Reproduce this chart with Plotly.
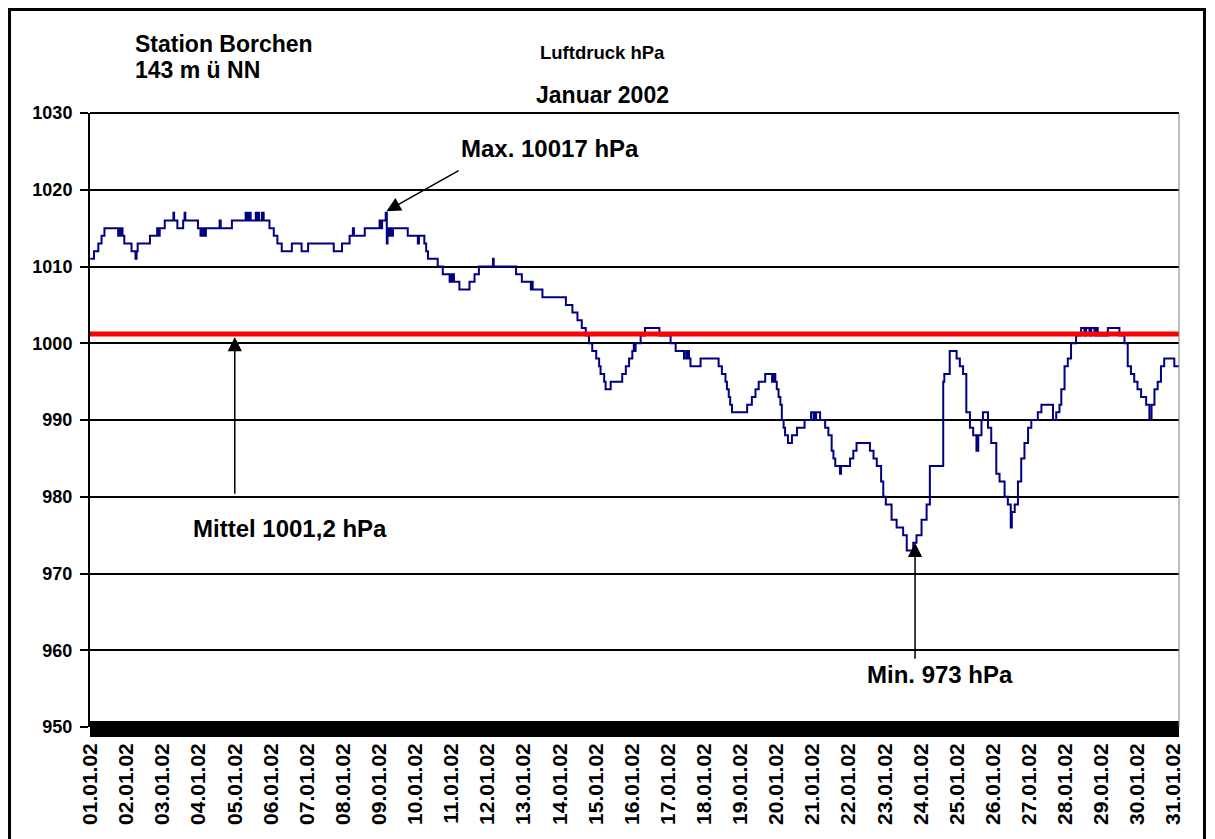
import plotly.graph_objects as go

# ---- data ----
day_pos = [1.00, 1.10, 1.22, 1.31, 1.39, 1.77, 1.80, 1.83, 1.86, 1.89, 1.94, 2.14, 2.25, 2.28, 2.31,
           2.65, 2.85, 2.88, 2.92, 3.06, 3.30, 3.32, 3.41, 3.57, 3.61, 3.63, 3.98, 4.05, 4.08, 4.11,
           4.14, 4.17, 4.20, 4.58, 4.61, 4.92, 5.30, 5.32, 5.36, 5.38, 5.42, 5.44, 5.58, 5.60, 5.65,
           5.67, 5.75, 5.80, 5.96, 6.08, 6.18, 6.30, 6.58, 6.85, 7.03, 7.74, 7.97, 8.18, 8.27, 8.30,
           8.60, 9.01, 9.05, 9.08, 9.18, 9.21, 9.23, 9.25, 9.27, 9.29, 9.31, 9.34, 9.38, 9.79, 10.07,
           10.10, 10.25, 10.30, 10.35, 10.62, 10.76, 10.95, 10.98, 11.01, 11.04, 11.07, 11.22, 11.50,
           11.64, 11.76, 12.15, 12.17, 12.79, 12.95, 13.20, 13.22, 13.25, 13.52, 14.17, 14.35, 14.49,
           14.61, 14.72, 14.81, 14.90, 15.01, 15.09, 15.13, 15.23, 15.27, 15.41, 15.73, 15.83, 15.92,
           16.01, 16.05, 16.07, 16.10, 16.24, 16.36, 16.76, 17.07, 17.21, 17.44, 17.50, 17.53, 17.56,
           17.58, 17.62, 17.90, 18.40, 18.49, 18.59, 18.63, 18.68, 18.72, 18.77, 19.19, 19.32, 19.42,
           19.51, 19.69, 19.88, 19.92, 19.97, 20.01, 20.06, 20.11, 20.15, 20.20, 20.24, 20.32, 20.43,
           20.57, 20.78, 20.96, 21.03, 21.05, 21.08, 21.10, 21.21, 21.35, 21.44, 21.53, 21.58, 21.63,
           21.76, 21.79, 22.04, 22.13, 22.22, 22.59, 22.69, 22.78, 22.90, 22.96, 23.03, 23.19, 23.33,
           23.51, 23.61, 23.79, 23.88, 24.02, 24.16, 24.25, 24.62, 24.65, 24.80, 24.99, 25.08, 25.17,
           25.26, 25.36, 25.45, 25.54, 25.59, 25.68, 25.72, 25.86, 25.95, 26.09, 26.18, 26.32, 26.41,
           26.49, 26.52, 26.60, 26.69, 26.78, 26.87, 26.97, 27.06, 27.24, 27.34, 27.66, 27.75, 27.84,
           27.89, 27.98, 28.07, 28.16, 28.30, 28.44, 28.53, 28.58, 28.67, 28.72, 28.81, 28.85, 28.90,
           29.18, 29.50, 29.64, 29.73, 29.82, 29.91, 30.00, 30.10, 30.24, 30.33, 30.39, 30.47, 30.56,
           30.65, 30.74, 31.02, 31.15]

pressure_hpa = [1011, 1012, 1013, 1014, 1015, 1014, 1015, 1014, 1015, 1014, 1013, 1012, 1011, 1012, 1013,
                1014, 1015, 1014, 1015, 1016, 1017, 1016, 1015, 1016, 1017, 1016, 1015, 1014, 1015, 1014,
                1015, 1014, 1015, 1016, 1015, 1016, 1017, 1016, 1017, 1016, 1017, 1016, 1017, 1016, 1017,
                1016, 1017, 1016, 1015, 1014, 1013, 1012, 1013, 1012, 1013, 1012, 1013, 1014, 1015, 1014,
                1015, 1016, 1015, 1016, 1017, 1013, 1015, 1014, 1015, 1014, 1015, 1014, 1015, 1014, 1013,
                1014, 1013, 1012, 1011, 1010, 1009, 1008, 1009, 1008, 1009, 1008, 1007, 1008,
                1009, 1010, 1011, 1010, 1009, 1008, 1007, 1008, 1007, 1006, 1005, 1004, 1003,
                1002, 1001, 1000, 999, 998, 997, 996, 995, 994, 995, 996, 997, 998,
                999, 1000, 999, 1000, 1001, 1002, 1001, 1000, 999, 998, 999, 998, 999,
                998, 997, 998, 997, 996, 995, 994, 993, 992, 991, 992, 993, 994,
                995, 996, 995, 996, 995, 994, 993, 992, 990, 989, 988, 987, 988,
                989, 990, 991, 990, 991, 990, 991, 990, 989, 988, 986, 985, 984,
                983, 984, 985, 986, 987, 986, 985, 984, 982, 980, 979, 977, 976,
                975, 973, 974, 975, 977, 979, 984, 995, 996, 999, 998, 997, 996,
                991, 989, 988, 986, 988, 990, 991, 989, 987, 983, 982, 980, 979,
                976, 978, 979, 982, 985, 987, 989, 990, 991, 992, 990, 991, 992,
                994, 997, 998, 1000, 1001, 1002, 1001, 1002, 1001, 1002, 1001, 1002, 1001,
                1002, 1001, 1000, 997, 996, 995, 994, 993, 992, 990, 992, 994, 995,
                997, 998, 997, 997]

mean_hpa = 1001.2
tick_days = list(range(1, 32))
tick_labels = [f"{d:02d}.01.02" for d in tick_days]
y_ticks = [950, 960, 970, 980, 990, 1000, 1010, 1020, 1030]

# ---- figure ----
X_LO, X_HI = 0.99, 31.15
FONT = "Liberation Sans, Arial, sans-serif"

fig = go.Figure()
fig.add_trace(go.Scatter(x=day_pos, y=pressure_hpa, mode="lines", line_shape="hv",
                         line=dict(color="#000080", width=2), hoverinfo="skip"))
fig.add_trace(go.Scatter(x=[X_LO, X_HI], y=[mean_hpa, mean_hpa], mode="lines",
                         line=dict(color="#ff0000", width=5), hoverinfo="skip"))

fig.update_layout(
    width=1198, height=831,
    margin=dict(l=82, r=27, t=105, b=112),
    paper_bgcolor="white", plot_bgcolor="white",
    showlegend=False,
    font=dict(family=FONT, color="black"),
    xaxis=dict(range=[X_LO, X_HI], tickvals=tick_days, ticktext=tick_labels,
               tickangle=-90, tickfont=dict(size=21, weight="bold", family=FONT),
               showgrid=False, zeroline=False, showline=False, ticks="",
               ticklabelstandoff=11),
    yaxis=dict(range=[950, 1030], tickvals=y_ticks, ticktext=[str(v) for v in y_ticks],
               tickfont=dict(size=18, weight="bold", family=FONT),
               showgrid=True, gridcolor="black", gridwidth=1.5, zeroline=False,
               showline=True, linecolor="black", linewidth=2,
               ticks="outside", ticklen=8, tickcolor="black", tickwidth=1.5,
               ticklabelstandoff=4),
)

shapes = [
    # dense tick band along the category axis
    dict(type="rect", xref="paper", yref="paper", x0=0, x1=1, y0=-0.0163, y1=0.0098,
         fillcolor="black", line=dict(width=0), layer="above"),
    # top border of plot area
    dict(type="line", xref="paper", yref="paper", x0=0, x1=1, y0=1, y1=1,
         line=dict(color="black", width=2)),
    # right border of plot area
    dict(type="line", xref="paper", yref="paper", x0=1, x1=1, y0=0, y1=1,
         line=dict(color="#808080", width=1)),
    # outer frame of the chart
    dict(type="rect", xref="paper", yref="paper", x0=-0.0739, x1=1.0234, y0=-0.2, y1=1.1686,
         line=dict(color="black", width=3), fillcolor="rgba(0,0,0,0)"),
]
fig.update_layout(shapes=shapes)

bold = dict(family=FONT, size=24, color="black", weight="bold")
title_font = dict(family=FONT, size=23, color="black", weight="bold")
arrow_style = dict(showarrow=True, arrowhead=2, arrowsize=1.9, arrowwidth=1.5,
                   arrowcolor="black", axref="x", ayref="y", text="")
annotations = [
    dict(xref="paper", yref="paper", x=0.0395, y=1.1124, text="Station Borchen",
         showarrow=False, xanchor="left", yanchor="middle", font=title_font),
    dict(xref="paper", yref="paper", x=0.0395, y=1.070, text="143 m ü NN",
         showarrow=False, xanchor="left", yanchor="middle", font=title_font),
    dict(xref="paper", yref="paper", x=0.4702, y=1.0993, text="Luftdruck hPa",
         showarrow=False, xanchor="center", yanchor="middle",
         font=dict(family=FONT, size=18.5, color="black", weight="bold")),
    dict(xref="paper", yref="paper", x=0.4702, y=1.0293, text="Januar 2002",
         showarrow=False, xanchor="center", yanchor="middle",
         font=dict(family=FONT, size=23, color="black", weight="bold")),
    # Max
    dict(x=13.73, y=1025.4, text="Max. 10017 hPa", showarrow=False, font=bold),
    dict(x=9.20, y=1017.2, ax=11.24, ay=1022.6, **arrow_style),
    # Mittel
    dict(x=6.53, y=975.9, text="Mittel 1001,2 hPa", showarrow=False, font=bold),
    dict(x=5.0, y=1000.8, ax=5.0, ay=980.2, **arrow_style),
    # Min
    dict(x=24.53, y=956.8, text="Min. 973 hPa", showarrow=False, font=bold),
    dict(x=23.84, y=974.0, ax=23.84, ay=958.7, **arrow_style),
]
fig.update_layout(annotations=annotations)

fig.write_html("out.html")
